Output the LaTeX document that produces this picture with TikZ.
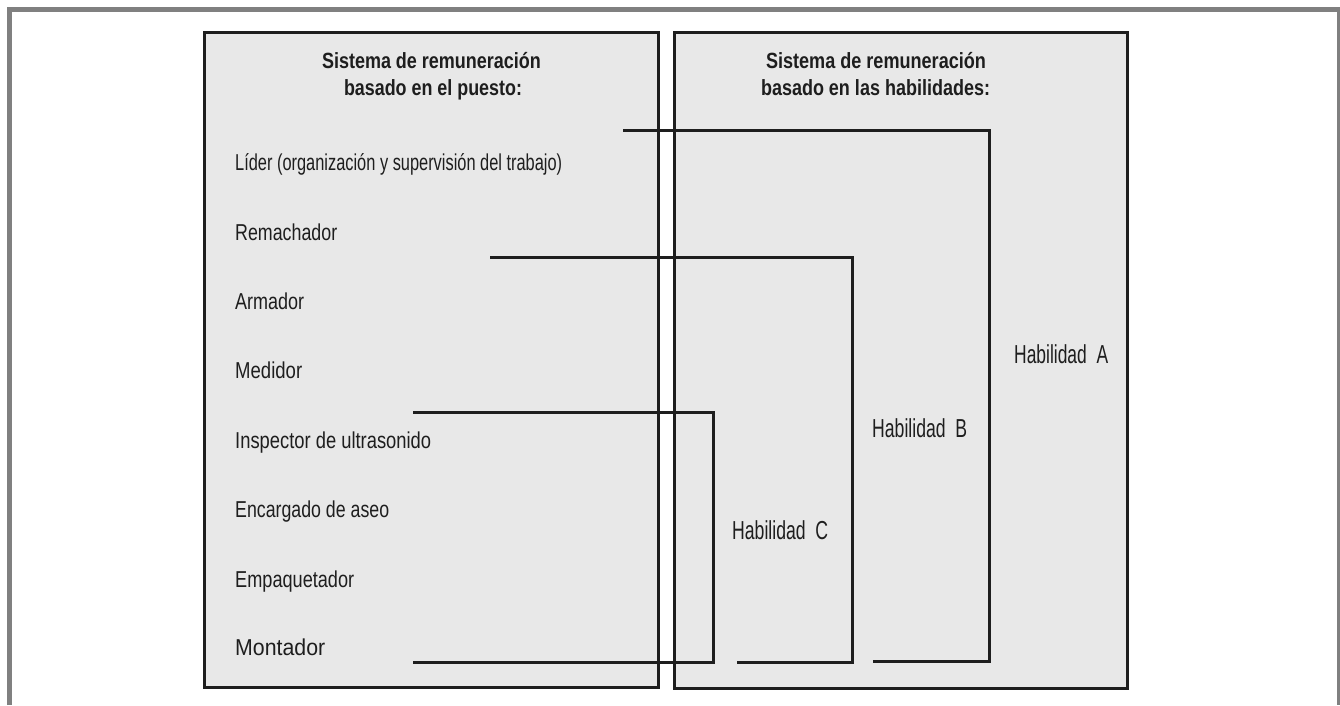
\documentclass[tikz,border=0pt]{standalone}
\usepackage{fontspec}
\setmainfont{Liberation Sans}
\usepackage{graphicx}
\definecolor{panelfill}{HTML}{E8E8E8}
\definecolor{ink}{HTML}{1E1E1E}
\definecolor{frame}{HTML}{808080}
% set a text at a given width, keeping its height
\newcommand\fitw[2]{\resizebox{#1}{\height}{#2}}
\tikzset{
  panel/.style={draw=ink, fill=panelfill, line width=3pt},
  link/.style={draw=ink, line width=3pt, line join=miter},
  item/.style={anchor=base west, inner sep=0pt, text=ink, font=\fontsize{23}{27}\selectfont},
  head/.style={anchor=base, inner sep=0pt, text=ink, font=\fontsize{22}{26}\selectfont\bfseries},
  skill/.style={anchor=base west, inner sep=0pt, text=ink, font=\fontsize{26}{30}\selectfont},
}
\begin{document}
\begin{tikzpicture}[x=1pt, y=-1pt]
\useasboundingbox (0,0) rectangle (1340,705);

% outer grey frame, open at the bottom
\draw[frame, line width=5.5pt] (9.5,705) -- (9.5,9.5) -- (1339.5,9.5) -- (1339.5,705);

% the two panels
\draw[panel] (204.5,32.5) rectangle (658,687);
\draw[panel] (674,32.5) rectangle (1127,688);

% headings
\node[head] (h1a) at (431.5,68) {\fitw{219pt}{Sistema de remuneración}};
\node[head] (h1b) at (433,95) {\fitw{178pt}{basado en el puesto:}};
\node[head] (h2a) at (876,68) {\fitw{220pt}{Sistema de remuneración}};
\node[head] (h2b) at (875.5,95) {\fitw{229pt}{basado en las habilidades:}};

% job positions
\node[item] (lider) at (235,170) {\fitw{327pt}{Líder (organización y supervisión del trabajo)}};
\node[item] (rema)  at (235,240) {\fitw{102pt}{Remachador}};
\node[item] (arma)  at (235,309) {\fitw{69pt}{Armador}};
\node[item] (medi)  at (235,378) {\fitw{67pt}{Medidor}};
\node[item] (insp)  at (235,448) {\fitw{196pt}{Inspector de ultrasonido}};
\node[item] (enca)  at (235,517) {\fitw{154pt}{Encargado de aseo}};
\node[item] (empa)  at (235,587) {\fitw{119pt}{Empaquetador}};
\node[item] (mont)  at (235,655) {\fitw{90pt}{Montador}};

% skill labels
\node[skill] (skA) at (1014,363) {\fitw{94pt}{Habilidad\ \ A}};
\node[skill] (skB) at (872,437)  {\fitw{95pt}{Habilidad\ \ B}};
\node[skill] (skC) at (732,539)  {\fitw{96pt}{Habilidad\ \ C}};

% bracket ends
\coordinate (aTop) at (623,130);
\coordinate (aBot) at (873,661);
\coordinate (bTop) at (490,257);
\coordinate (bBot) at (737,662);
\coordinate (cTop) at (413,412);
\coordinate (cBot) at (413,662);

% skill brackets
\draw[link] (aTop) -| (989,661) -- (aBot);
\draw[link] (bTop) -| (852,662) -- (bBot);
\draw[link] (cTop) -| (713,662) -- (cBot);
\end{tikzpicture}
\end{document}
